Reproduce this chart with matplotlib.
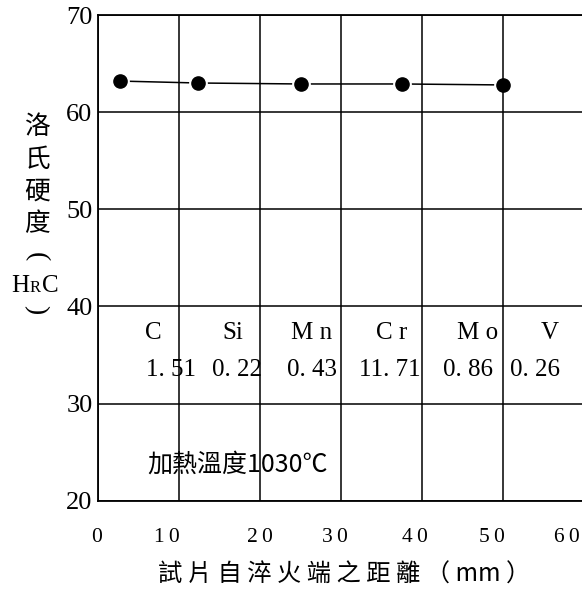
import matplotlib.pyplot as plt
import matplotlib.transforms as mtransforms

plt.rcParams['font.family'] = ['Liberation Serif', 'DejaVu Serif']
CJK = ['Noto Sans CJK TC', 'DejaVu Sans']

# end-quench hardness curve
distance = [2.7, 12.3, 25.0, 37.5, 50.0]      # mm from quenched end
hardness = [63.2, 63.0, 62.9, 62.9, 62.8]     # HRC

# chemical composition (wt%)
elements = ["C", "Si", "M n", "C r", "M o", "V"]
content = [1.51, 0.22, 0.43, 11.71, 0.86, 0.26]

xticks = [0, 10, 20, 30, 40, 50, 60]
yticks = [20, 30, 40, 50, 60, 70]

W, H = 582, 596


def px(x, y):
    return x / W, 1 - y / H


fig = plt.figure(figsize=(W / 100, H / 100), dpi=100)
ax = fig.add_axes([98 / W, 95.3 / H, 486 / W, 485.7 / H])
ax.set_xlim(0, 60)
ax.set_ylim(20, 70)

ax.grid(True, color='black', lw=1.1)
ax.set_axisbelow(False)
for s in ax.spines.values():
    s.set_linewidth(1.3)

ax.set_xticks(xticks)
ax.set_xticklabels(["\u2009".join(str(t)) for t in xticks])
ax.set_yticks(yticks)
ax.set_yticklabels([str(t) for t in yticks])
ax.tick_params(axis='x', length=0, pad=20, labelsize=15.5)
ax.tick_params(axis='y', length=0, pad=4, labelsize=19)

# the printed x labels sit a little left of their grid lines
xshift = [-1, -12, 0, -6, -7, -11, -17]
for lab, dx in zip(ax.get_xticklabels(), xshift):
    lab.set_transform(lab.get_transform() +
                      mtransforms.ScaledTranslation(dx * 0.72 / 72, 0, fig.dpi_scale_trans))

# curve: line broken around the dots
ax.plot(distance, hardness, color='black', lw=1.1, zorder=1)
ax.plot(distance, hardness, 'o', ms=12.5, color='white', zorder=1.5)
ax.plot(distance, hardness, 'o', ms=9.5, color='black', zorder=3)

# composition table
name_x = [6.8, 16.7, 26.4, 36.3, 46.8, 55.8]
val_x = [9.0, 17.2, 26.4, 36.0, 45.7, 54.0]
for name, v, xn, xv in zip(elements, content, name_x, val_x):
    ax.text(xn, 37.3, name, ha='center', va='center', fontsize=18)
    ax.text(xv, 33.5, f"{v:.2f}".replace(".", ". "), ha='center', va='center', fontsize=18)

ax.text(6.05, 23.7, "加熱溫度1030℃", ha='left', va='center', fontsize=18, family=CJK)

# y axis title, stacked vertically
for ch, y in zip("洛氏硬度", [127, 160, 192, 224]):
    fig.text(*px(37, y), ch, ha='center', va='center', fontsize=18.5, family=CJK)
fig.text(*px(36, 257), "(", ha='center', va='center', fontsize=20, rotation=-90)
fig.text(*px(20, 286), "H", ha='center', va='center', fontsize=18)
fig.text(*px(35, 288), "R", ha='center', va='center', fontsize=12)
fig.text(*px(50, 286), "C", ha='center', va='center', fontsize=18)
fig.text(*px(36, 310), ")", ha='center', va='center', fontsize=20, rotation=-90)

# x axis title
fig.text(*px(344, 575), "試 片 自 淬 火 端 之 距 離 （ mm ）", ha='center', va='center',
         fontsize=17.5, family=CJK)

fig.savefig("out.png", dpi=100)
